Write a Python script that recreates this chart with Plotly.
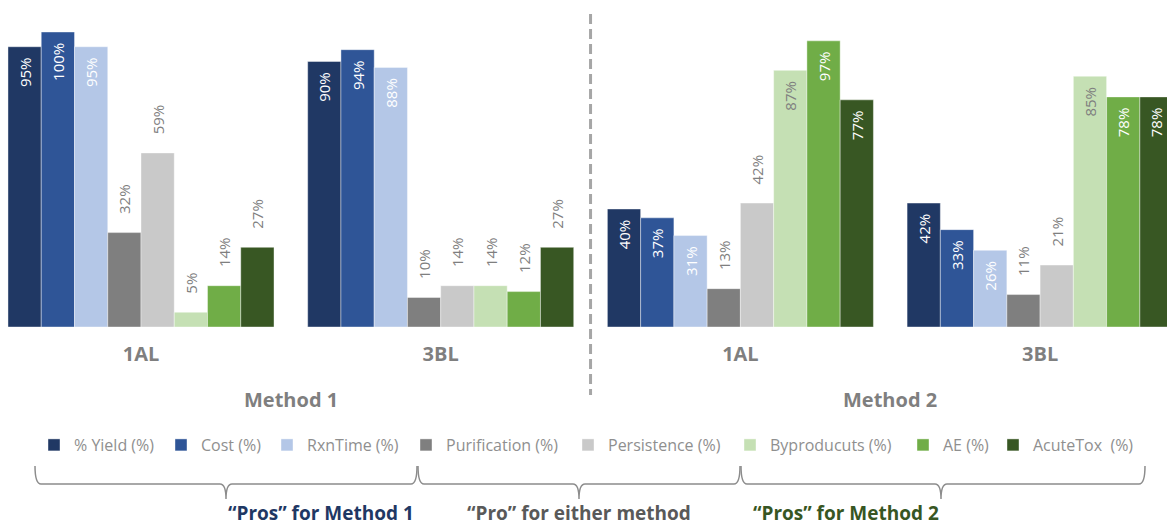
import plotly.graph_objects as go

# ---------------- data ----------------
group_x = [0, 1, 2, 3]
group_labels = ["1AL", "3BL", "1AL", "3BL"]
method_labels = ["Method 1", "Method 2"]
method_x = [0.5, 2.5]

series_names = ["% Yield (%)", "Cost (%)", "RxnTime (%)", "Purification (%)",
                "Persistence (%)", "Byproducuts (%)", "AE (%)", "AcuteTox\u00a0 (%)"]
yield_pct = [95, 90, 40, 42]
cost_pct = [100, 94, 37, 33]
rxntime_pct = [95, 88, 31, 26]
purification_pct = [32, 10, 13, 11]
persistence_pct = [59, 14, 42, 21]
byproducts_pct = [5, 14, 87, 85]
ae_pct = [14, 12, 97, 78]
acutetox_pct = [27, 27, 77, 78]
series_values = [yield_pct, cost_pct, rxntime_pct, purification_pct,
                 persistence_pct, byproducts_pct, ae_pct, acutetox_pct]

brace_labels = ["\u201cPros\u201d for Method 1", "\u201cPro\u201d for either method",
                "\u201cPros\u201d for Method 2"]

# ---------------- style ----------------
colors = ["#203864", "#2F5597", "#B4C7E7", "#7F7F7F",
          "#C9C9C9", "#C5E0B4", "#70AD47", "#385723"]
inside_text_colors = ["white", "white", "white", "#7F7F7F",
                      "#7F7F7F", "#7F7F7F", "white", "white"]
brace_colors = ["#1F3864", "#595959", "#375623"]
legend_square_px = [50, 177, 283, 422, 584, 746, 919, 1009]  # window px

W, H = 1167, 529
PLOT_TOP, PLOT_BOTTOM = 10, 327
PX_PER_PCT = 2.95
X0_PX, X_STEP_PX = 141, 299.7

def py(p):  # pixel y -> paper y
    return (PLOT_BOTTOM - p) / (PLOT_BOTTOM - PLOT_TOP)

def px(p):  # pixel x -> paper x (margins are zero)
    return p / W

LIGHT = "Open Sans"
BOLD = "Open Sans"
GREY = "#7F7F7F"

fig = go.Figure()
for i, (name, vals) in enumerate(zip(series_names, series_values)):
    positions, texts, tcolors = [], [], []
    for v in vals:
        inside = i < 3 or (i >= 5 and v >= 50)
        positions.append("inside" if inside else "outside")
        if inside:
            texts.append(f"{v}%\u00a0\u00a0")
            tcolors.append(inside_text_colors[i])
        else:
            texts.append(f"\u00a0\u00a0\u00a0\u00a0{v}%")
            tcolors.append(GREY)
    fig.add_trace(go.Bar(
        x=group_x, y=vals, name=name,
        marker=dict(color=colors[i], line=dict(color="rgba(255,255,255,0.4)", width=1)),
        text=texts, textposition=positions, textangle=-90,
        insidetextanchor="end",
        textfont=dict(family=LIGHT, size=15, color=tcolors),
        constraintext="none", cliponaxis=False,
        legend="legend" if i == 0 else f"legend{i+1}",
        hoverinfo="name+y",
    ))

layout_legends = {}
for i, sx in enumerate(legend_square_px):
    key = "legend" if i == 0 else f"legend{i+1}"
    layout_legends[key] = dict(
        xref="container", yref="container",
        x=(sx - 16) / W, xanchor="left",
        y=1 - 445 / H, yanchor="middle",
        orientation="h", bgcolor="rgba(0,0,0,0)",
        font=dict(family=LIGHT, size=16, color="#8F8F8F"),
        itemclick=False, itemdoubleclick=False,
    )

x_range = [-X0_PX / X_STEP_PX, (W - X0_PX) / X_STEP_PX]
y_max = (PLOT_BOTTOM - PLOT_TOP) / PX_PER_PCT

fig.update_layout(
    width=W, height=H,
    margin=dict(l=0, r=0, t=PLOT_TOP, b=H - PLOT_BOTTOM, pad=0),
    paper_bgcolor="white", plot_bgcolor="white",
    barmode="group", bargap=0.1124, bargroupgap=0,
    showlegend=True,
    xaxis=dict(range=x_range, tickvals=group_x, ticktext=group_labels,
               showgrid=False, zeroline=False, showline=False, ticks="",
               ticklabelstandoff=13,
               tickfont=dict(family=BOLD, size=20, color=GREY, weight="bold")),
    yaxis=dict(range=[0, y_max], visible=False, fixedrange=True),
    **layout_legends,
)

# dashed separator between methods
fig.add_shape(type="line", xref="x", yref="paper", x0=1.5, x1=1.5,
              y0=py(14), y1=py(395),
              line=dict(color="#A6A6A6", width=3, dash="10px,5px"))

# method labels
for mx, ml in zip(method_x, method_labels):
    fig.add_annotation(x=mx, xref="x", y=py(399), yref="paper", text=ml,
                       showarrow=False, yanchor="middle",
                       font=dict(family=BOLD, size=20, color=GREY, weight="bold"))

# braces
brace_spans = [(35, 417, 226), (418, 740, 579), (741, 1145, 941)]
top, mid, tip = 466, 484, 499
for (a, b, c), lab, col in zip(brace_spans, brace_labels, brace_colors):
    pts = [
        f"M {px(a)},{py(top)}",
        f"Q {px(a)},{py(mid)} {px(a + 6)},{py(mid)}",
        f"L {px(c - 6)},{py(mid)}",
        f"Q {px(c)},{py(mid)} {px(c)},{py(tip)}",
        f"Q {px(c)},{py(mid)} {px(c + 6)},{py(mid)}",
        f"L {px(b - 6)},{py(mid)}",
        f"Q {px(b)},{py(mid)} {px(b)},{py(top)}",
    ]
    fig.add_shape(type="path", xref="paper", yref="paper", path=" ".join(pts),
                  line=dict(color="#8C8C8C", width=1.5))
    fig.add_annotation(x=px(c), xref="paper", y=py(513), yref="paper", text=lab,
                       showarrow=False, yanchor="middle",
                       font=dict(family=BOLD, size=19, color=col, weight="bold"))

fig.write_html(
    "out.html",
    config={"displayModeBar": False},
    post_script="document.body.style.margin='0';document.body.style.overflow='hidden';",
)
